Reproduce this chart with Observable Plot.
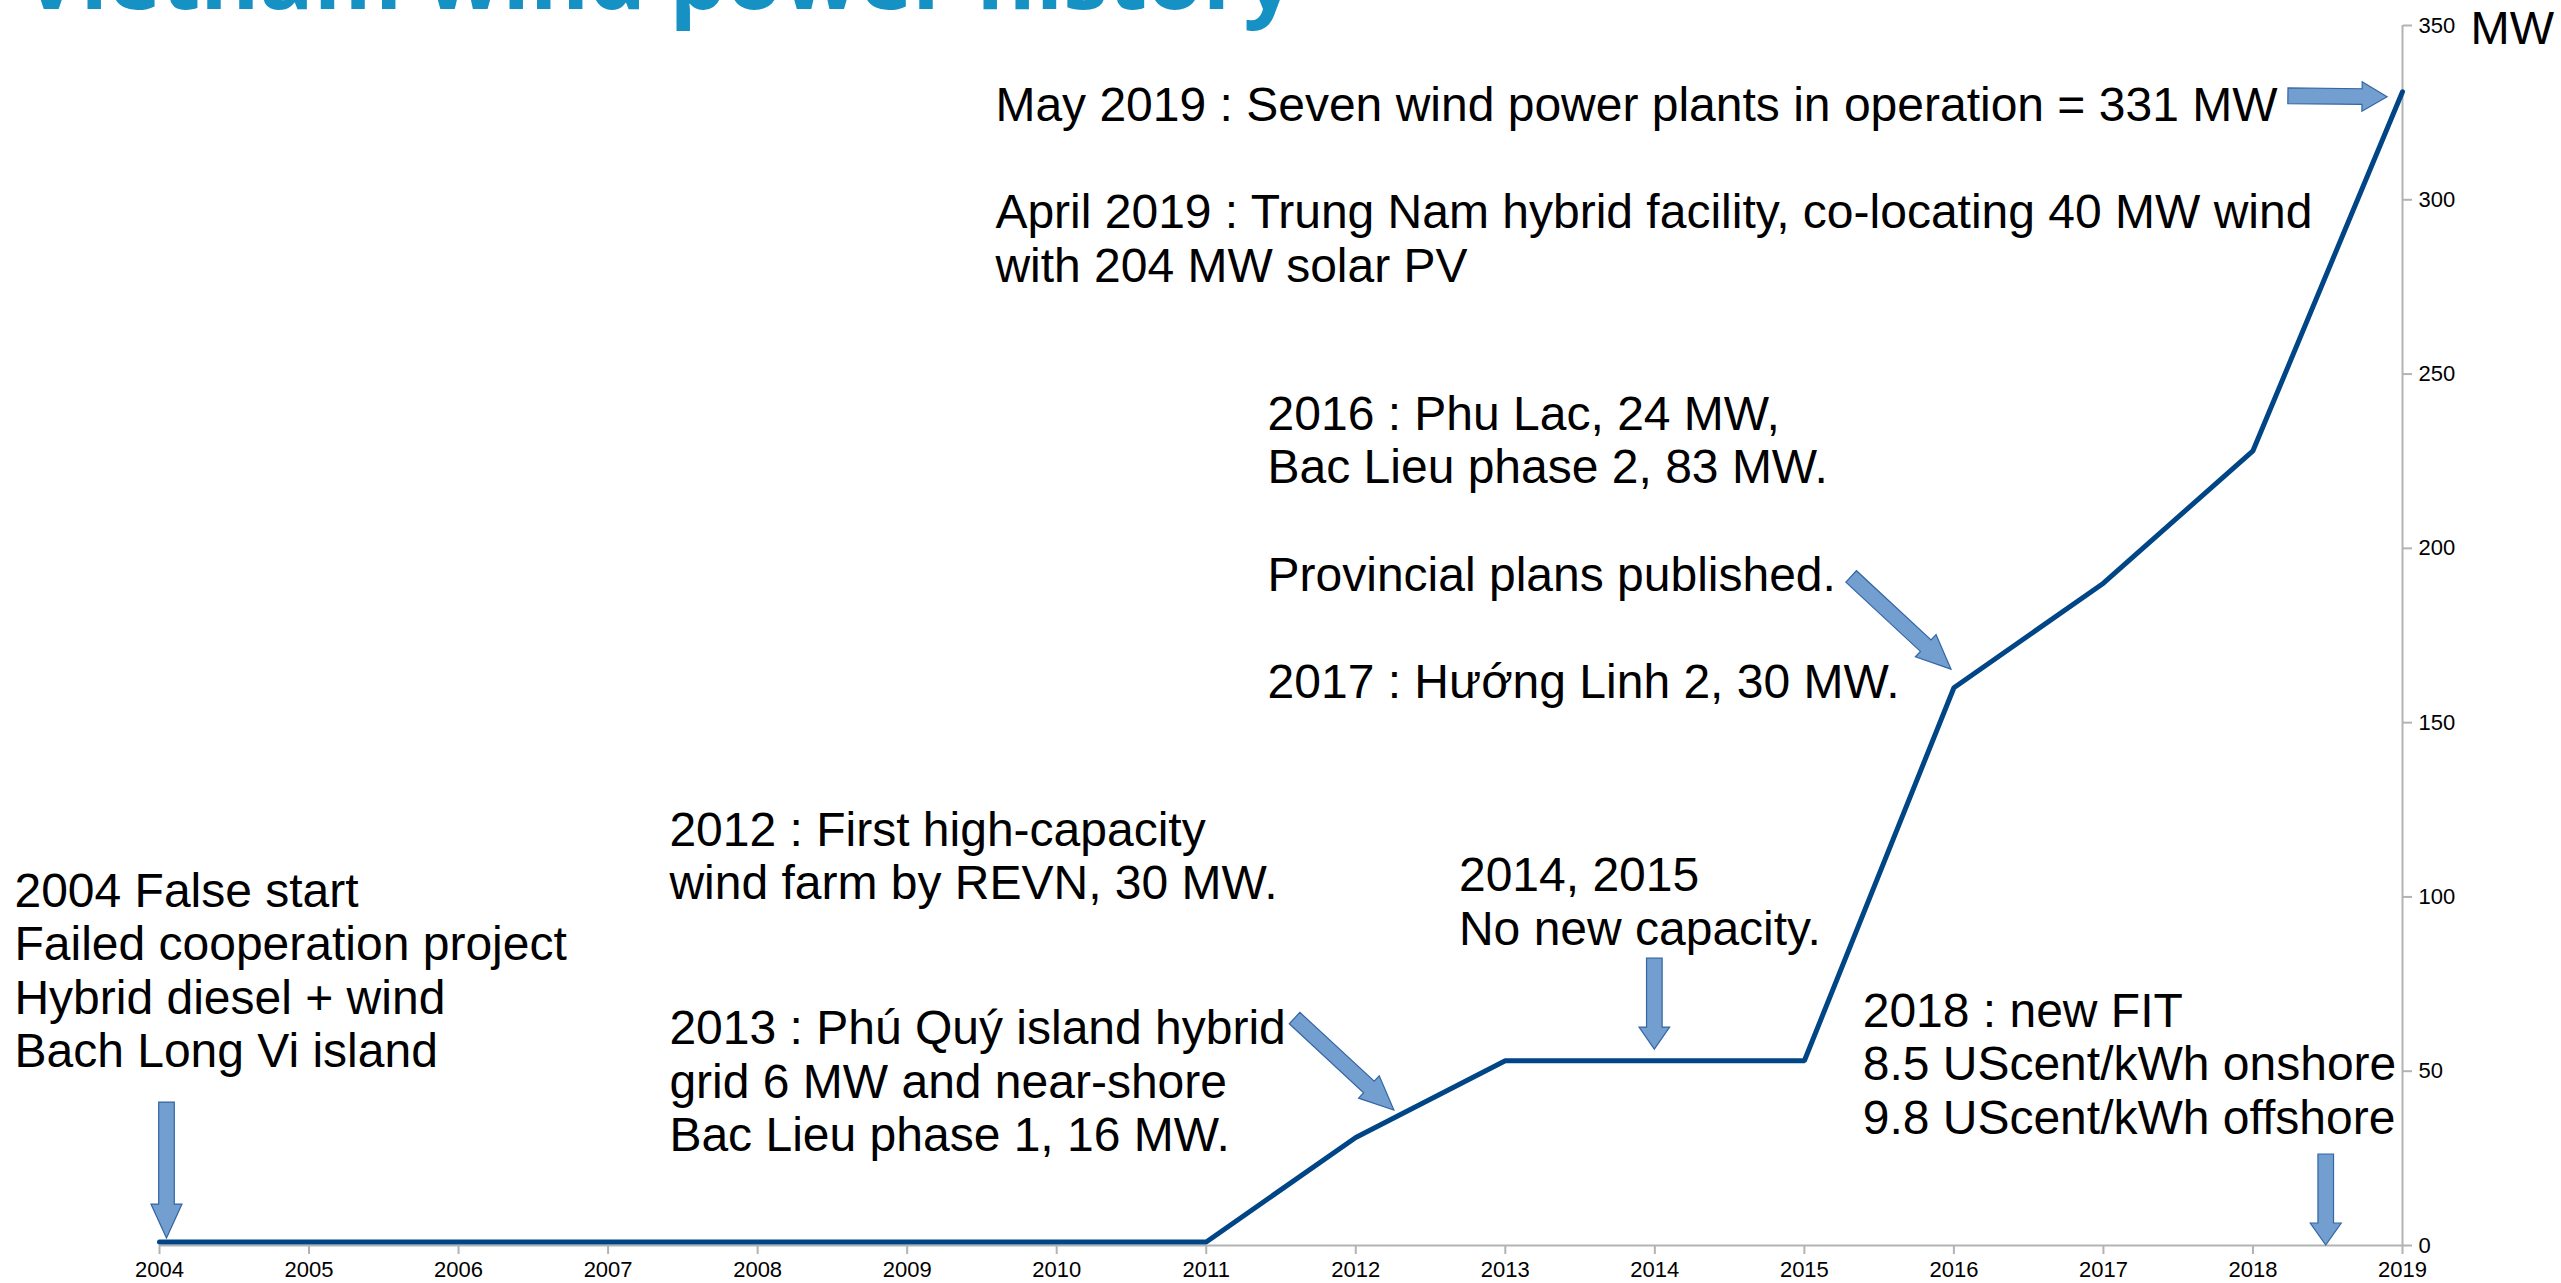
<!DOCTYPE html>
<html><head><meta charset="utf-8">
<script src="https://cdn.jsdelivr.net/npm/d3@7"></script>
<script src="https://cdn.jsdelivr.net/npm/@observablehq/plot@0.6"></script>
<style>
html,body{margin:0;padding:0;background:#fff;overflow:hidden}
#wrap{position:relative;width:2561px;height:1283px}
#wrap svg{position:absolute;left:0;top:0}
#title{position:absolute;left:22px;top:-71px;font-family:"Open Sans";font-weight:700;font-size:90px;line-height:1;color:#1591c4;white-space:nowrap;z-index:2}
</style></head><body>
<div id="wrap"><div id="title">Vietnam wind power history</div></div>
<script>
// ---- data ----
const years = [2004, 2005, 2006, 2007, 2008, 2009, 2010, 2011, 2012, 2013, 2014, 2015, 2016, 2017, 2018, 2019];
const capacityMW = [1, 1, 1, 1, 1, 1, 1, 1, 31, 53, 53, 53, 160, 190, 228, 331];
const xTicks = [2004, 2005, 2006, 2007, 2008, 2009, 2010, 2011, 2012, 2013, 2014, 2015, 2016, 2017, 2018, 2019];
const yTicks = [0, 50, 100, 150, 200, 250, 300, 350];
const yUnit = "MW";
const titleText = "Vietnam wind power history";

// annotations (anchor = left edge / last-line baseline, in data units)
const noteTexts = [
  "May 2019 : Seven wind power plants in operation = 331 MW\n\nApril 2019 : Trung Nam hybrid facility, co-locating 40 MW wind\nwith 204 MW solar PV",
  "2016 : Phu Lac, 24 MW,\nBac Lieu phase 2, 83 MW.\n\nProvincial plans published.\n\n2017 : Hướng Linh 2, 30 MW.",
  "2012 : First high-capacity\nwind farm by REVN, 30 MW.",
  "2013 : Phú Quý island hybrid\ngrid 6 MW and near-shore\nBac Lieu phase 1, 16 MW.",
  "2004 False start\nFailed cooperation project\nHybrid diesel + wind\nBach Long Vi island",
  "2014, 2015\nNo new capacity.",
  "2018 : new FIT\n8.5 UScent/kWh onshore\n9.8 UScent/kWh offshore"
];
const noteYear = [2009.59, 2011.41, 2007.41, 2007.41, 2003.03, 2012.69, 2015.39];
const noteMW = [276.5, 157.1, 99.3, 27.0, 51.1, 86.3, 32.0];

// block arrows (tail -> tip, in data units)
const arrowFromYear = [2004.05, 2011.594, 2014.0, 2015.316, 2018.49, 2018.237];
const arrowFromMW   = [41.0, 65.1, 82.3, 191.8, 26.1, 329.7];
const arrowToYear   = [2004.05, 2012.258, 2014.0, 2015.984, 2018.49, 2018.90];
const arrowToMW     = [2.0, 38.7, 56.2, 165.2, 0.0, 329.4];

// ---- styles ----
const arrowHeadLen = [34, 34, 22, 34.5, 22, 25];
const arrowHeadHalf = [15.5, 15.2, 15.3, 15.2, 15.5, 14.7];
const arrowShaftHalf = 7.8;

document.getElementById("title").textContent = titleText;

const series = years.map((y, i) => ({year: y, mw: capacityMW[i]}));
const notes = noteTexts.map((t, i) => ({text: t, x: noteYear[i], y: noteMW[i]}));
const arrows = arrowFromYear.map((_, i) => ({x1: arrowFromYear[i], y1: arrowFromMW[i], x2: arrowToYear[i], y2: arrowToMW[i]}));

function arrowsMark(index, scales) {
  const g = d3.create("svg:g");
  arrows.forEach((a, i) => {
    const x1 = scales.x(a.x1), y1 = scales.y(a.y1), x2 = scales.x(a.x2), y2 = scales.y(a.y2);
    const dx = x2 - x1, dy = y2 - y1, L = Math.hypot(dx, dy);
    const ux = dx / L, uy = dy / L, nx = -uy, ny = ux;
    const hl = arrowHeadLen[i], hw = arrowHeadHalf[i], sw = arrowShaftHalf;
    const bx = x2 - ux * hl, by = y2 - uy * hl;
    const pts = [
      [x1 + nx * sw, y1 + ny * sw], [bx + nx * sw, by + ny * sw], [bx + nx * hw, by + ny * hw],
      [x2, y2],
      [bx - nx * hw, by - ny * hw], [bx - nx * sw, by - ny * sw], [x1 - nx * sw, y1 - ny * sw]
    ];
    g.append("polygon")
      .attr("points", pts.map(p => p.map(v => v.toFixed(2)).join(",")).join(" "))
      .attr("fill", "#729fcf").attr("stroke", "#3465a4").attr("stroke-width", 1.2)
      .attr("stroke-linejoin", "miter");
  });
  return g.node();
}

const plot = Plot.plot({
  width: 2561, height: 1283,
  marginLeft: 159, marginRight: 159, marginTop: 25, marginBottom: 38,
  x: {domain: [2004, 2019]},
  y: {domain: [0, 350]},
  style: {fontFamily: "Liberation Sans", fontSize: "22px", background: "transparent", color: "black"},
  marks: [
    Plot.ruleY([0], {stroke: "#b3b3b3", strokeWidth: 2}),
    Plot.ruleX([2019], {stroke: "#b3b3b3", strokeWidth: 2}),
    Plot.axisX(xTicks, {tickSize: 9, tickPadding: 7, tickFormat: d => String(d), stroke: "#b3b3b3", strokeWidth: 2, fill: "black", fontSize: 22, fontFamily: "Liberation Sans", label: null}),
    Plot.axisY(yTicks, {anchor: "right", tickSize: 9, tickPadding: 7, tickFormat: d => String(d), stroke: "#b3b3b3", strokeWidth: 2, fill: "black", fontSize: 22, fontFamily: "Liberation Sans", label: null}),
    Plot.line(series, {x: "year", y: "mw", stroke: "#004586", strokeWidth: 5, strokeLinejoin: "miter"}),
    arrowsMark,
    Plot.text(notes, {x: "x", y: "y", text: "text", textAnchor: "start", lineAnchor: "bottom", fontSize: 48, lineHeight: 1.117, fill: "black", fontFamily: "Liberation Sans"}),
    Plot.text([{t: yUnit}], {x: () => 2019, y: () => 350, text: "t", textAnchor: "start", lineAnchor: "bottom", dx: 68, dy: 18, fontSize: 47, fill: "black", fontFamily: "Liberation Sans"})
  ]
});
document.getElementById("wrap").appendChild(plot);
</script>
</body></html>
